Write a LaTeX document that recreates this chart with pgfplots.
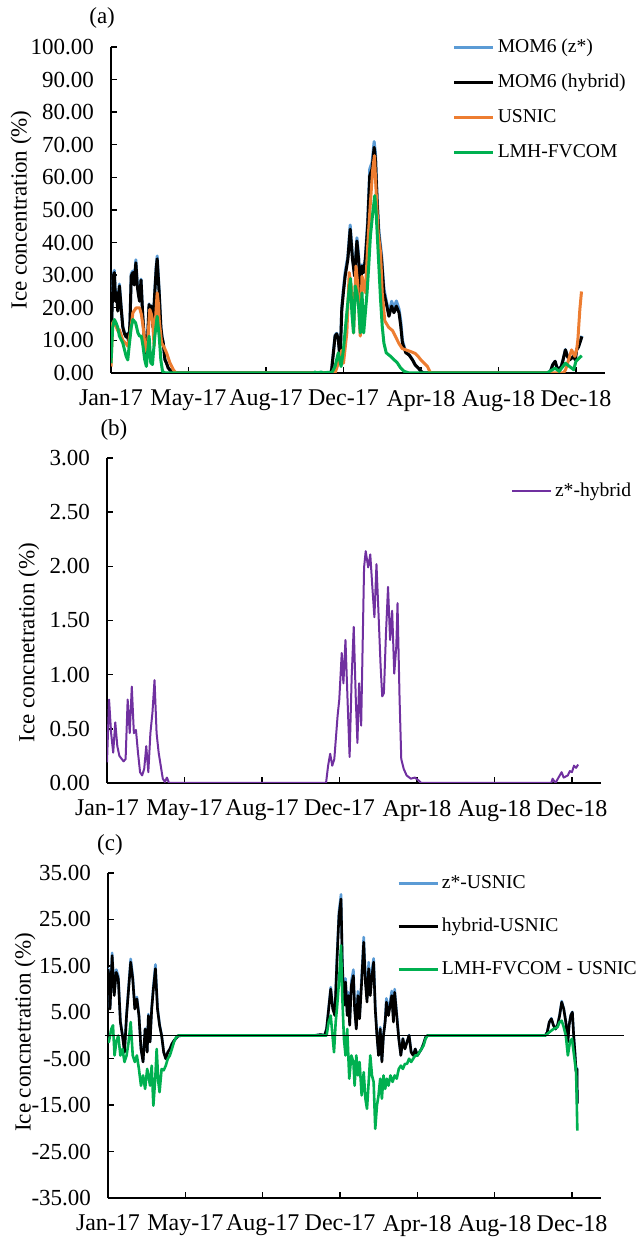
\documentclass[border=0pt]{standalone}
\usepackage{fontspec}
\setmainfont{Liberation Serif}
\usepackage{pgfplots}
\pgfplotsset{compat=1.18}
\definecolor{zblue}{RGB}{91,155,213}
\definecolor{uorange}{RGB}{237,125,49}
\definecolor{fgreen}{RGB}{0,176,80}
\definecolor{hpurple}{RGB}{112,48,160}
\newcommand{\tfont}{\fontsize{11.5}{13}\selectfont}
\newcommand{\xfont}{\fontsize{12}{13}\selectfont}
\newcommand{\lfont}{\fontsize{9.8}{11}\selectfont}
\pgfplotsset{
  base/.style={
    scale only axis, width=247pt, height=162.5pt,
    xmin=0, xmax=765,
    axis lines*=left, xtick pos=left, ytick pos=left,
    tick align=inside, major tick length=3pt,
    every tick/.style={black, line width=0.7pt},
    axis line style={black, line width=0.8pt},
    xtick={0,120,240,360,480,600,720},
    xticklabels={Jan-17,May-17,Aug-17,Dec-17,Apr-18,Aug-18,Dec-18},
    yticklabel style={font=\tfont, xshift=-5pt},
    xticklabel style={font=\xfont, yshift=-5pt},
    /pgf/number format/.cd, fixed, fixed zerofill, precision=2, assume math mode=true,
    /pgfplots/.cd,
    label style={font=\tfont},
    clip mode=individual,
    legend cell align=left,
    legend image code/.code={\draw[##1] (0pt,0pt) -- (19.5pt,0pt);},
    every axis plot/.append style={line join=round},
  }
}
\begin{document}
\begin{tikzpicture}
% ---------------- (a)
\begin{axis}[base, at={(55.5pt,432.5pt)}, anchor=south west,
  width=247pt, height=163pt,
  ymin=0, ymax=100, ytick distance=10,
  ylabel={Ice concentration (\%)},
  ylabel style={at={(axis description cs:-0.182,0.5)}, anchor=center},
  legend style={at={(axis description cs:0.691,1.03)}, anchor=north west,
    draw=none, fill=none, inner sep=0pt, row sep=7.5pt, column sep=1pt,
    font=\lfont, nodes={inner sep=0.5pt, text height=7pt, text depth=2pt}},
]
\addplot[zblue, line width=1.5pt] coordinates {
(0,8.2) (2,22.6) (4,30.6) (5.2,31.5) (7,22.5) (8.9,25) (10.5,19.4) (13,27.3) (15.7,20.3) (18.3,14.3) (21,12.2) (23.5,11.2) (25.5,12.2) (27.7,9.2) (29.5,16.5) (31.3,30.4) (33.9,31.3) (36,27.6) (38.5,34.7) (40.7,27.2) (42.5,24.5) (44.3,22.4) (46.5,28.8) (49,18.3) (51,12.1) (52.5,9.1) (54.8,6.1) (57,12.1) (59,21.2) (61,17.3) (62.6,20.6) (65,14.1) (67.8,25) (70,32.6) (71.5,35.9) (73,30.6) (74.6,25.1) (77.2,14.3) (79,11.2) (80.9,9.3) (83.5,4.1) (86,3) (88.7,1.5) (93.9,0.4) (99,0)
(340,0) (341.7,1.1) (344.3,6.2) (347,11.6) (349.5,12.2) (352,10.5) (354.8,4.3) (357.4,20.1) (360,25.8) (362.6,30.9) (366.8,35.8) (370.4,45.4) (374,35.7) (377.2,30) (380.8,41.5) (383.4,36.2) (386,25.3) (388.7,33.2) (391.3,31.7) (393.9,35.4) (397.5,47) (400.7,62.6) (404.3,64.6) (407.5,71) (409.5,67.5) (412.1,53.8) (414.8,43.6) (418.9,36.5) (422.6,25.9) (426.2,22.3) (430.4,18.2) (434.6,22) (438.2,19.8) (441.9,22.1) (446,19.6) (448.7,16) (451.3,10) (456.5,6.4) (461.7,5.6) (466.9,4.1) (471,2.5) (476,1.5) (480,0.5) (484,0)
(680,0) (681.4,1) (684,2.5) (687.8,3.6) (690,2) (692.9,1) (697.3,2) (700,4) (703.7,7.2) (707,5.1) (710,4.1) (713,4.6) (716.5,5.2) (719,4.1) (721,7.2) (724,8.1) (726,9.4) (729.2,11.4)};
\addlegendentry{MOM6 (z*)}
\addplot[black, line width=1.5pt] coordinates {
(0,8) (2,22) (4,30) (5.2,30.8) (7,22) (8.9,24.6) (10.5,19) (13,26.7) (15.7,20) (18.3,14) (21,12) (23.5,11) (25.5,12) (27.7,9) (29.5,16) (31.3,29.7) (33.9,30.8) (36,27) (38.5,33.8) (40.7,26.7) (42.5,24) (44.3,22) (46.5,28.5) (49,18) (51,12) (52.5,9) (54.8,6) (57,12) (59,21) (61,17) (62.6,20.5) (65,14) (67.8,24.6) (70,32) (71.5,35) (73,30) (74.6,24.6) (77.2,14) (79,11) (80.9,9.2) (83.5,4.1) (86,3) (88.7,1.5) (93.9,0.4) (99,0)
(340,0) (341.7,1) (344.3,6) (347,11.3) (349.5,12) (352,10.3) (354.8,4) (357.4,19.5) (360,25) (362.6,29.7) (366.8,34.9) (370.4,44.1) (374,34.9) (377.2,29.7) (380.8,40.5) (383.4,34.9) (386,24.6) (388.7,32.8) (391.3,30.8) (393.9,34.9) (397.5,45.1) (400.7,60.5) (404.3,62.6) (407.5,69.2) (409.5,65.6) (412.1,52.3) (414.8,42) (418.9,34.9) (422.6,24.6) (426.2,21.5) (430.4,17.4) (434.6,20.5) (438.2,18.5) (441.9,20.5) (446,18.5) (448.7,14.4) (451.3,9.2) (456.5,6.2) (461.7,5.5) (466.9,4) (471,2.5) (476,1.5) (480,0.5) (484,0)
(680,0) (681.4,1) (684,2.5) (687.8,3.6) (690,2) (692.9,1) (697.3,2) (700,4) (703.7,7.1) (707,5) (710,4) (713,4.5) (716.5,5.1) (719,4) (721,7.1) (724,8) (726,9.2) (729.2,11.2)};
\addlegendentry{MOM6 (hybrid)}
\addplot[uorange, line width=1.5pt] coordinates {
(0,2) (2.6,15.4) (5.2,16) (7.8,14.4) (10.4,13) (13,13.3) (18.3,10) (23.5,9) (26,8.2) (29.7,12) (33.9,18.5) (39,20) (44.3,20) (47,18) (49.6,14.4) (52.2,9.2) (55.8,6.2) (60,19.5) (62.6,18) (64.2,16.4) (66.8,8.2) (69.4,18) (71.5,24.6) (73.6,21) (74.6,16.4) (78.3,9.2) (82,8) (86,6.2) (91.3,3.1) (96.5,1) (100.7,0)
(347,0) (352,3) (357.4,7) (360,3) (365.2,12.3) (368.9,30.8) (372,26.7) (375.6,12.3) (379.3,32.8) (382.4,26.7) (386,11.3) (388.7,29.7) (393.9,24.6) (397.5,39) (401.7,52.3) (405.4,62.6) (408,66.7) (410.6,55.4) (413.7,43) (417.4,37) (420,24.6) (424,16) (430,14) (436,13) (441,11) (446,9) (451,7.5) (458,7) (465,6.5) (471,6) (476,5) (480,4) (485,3) (490,2) (495,0)
(700.5,0) (704,1) (707,3) (710,5) (713.3,7.1) (716,6) (718.4,5.1) (721,7) (723,10.2) (726,19.4) (728.6,25)};
\addlegendentry{USNIC}
\addplot[fgreen, line width=1.5pt] coordinates {
(0,3) (2.6,14) (5.2,16.4) (7.8,15.4) (10.4,14) (13,11.3) (18.3,9.2) (23.5,5.1) (26,4) (28,8) (31.3,14) (33.9,16.4) (38.1,15.4) (41.7,12.3) (44.3,11.3) (47,11.3) (49.6,8.2) (52.2,4.1) (54.8,2) (59,11.3) (61.6,3.1) (64.2,2.6) (67.8,11.3) (71.5,17.4) (74.6,11.3) (77.2,4) (79.8,0.5) (83.5,0)
(315,0) (316,0.3) (318,0) (326,0.3) (328,0) (336,0.2) (341.7,0) (347,2) (352,6.2) (356.3,2) (360,7.2) (365.2,18.5) (368.9,26) (371,29) (373,18.5) (375.6,12.3) (378.2,26.7) (380.8,24.6) (383.4,20.5) (386,12.3) (388.7,24.6) (391.3,12.3) (393.9,18.5) (396.5,24.6) (399.1,32.8) (401.7,42) (405.4,49.2) (408.5,54.4) (410.6,49.2) (412.7,41) (414.8,32.8) (417.4,22.6) (420,14.4) (422.6,9.2) (426.2,6.2) (433,5.1) (438.2,4.1) (443.4,3.1) (448.7,1.5) (453.9,0.5) (461.7,0)
(675,0) (687.8,1.5) (694,0.5) (703.7,3) (710,2) (716.5,1) (720,3.6) (725,4.6) (729,5.3)};
\addlegendentry{LMH-FVCOM}
\node[font=\tfont] at (axis description cs:-0.018,1.089) {(a)};
\end{axis}
% ---------------- (b)
\begin{axis}[base, at={(53.5pt,227.5pt)}, anchor=south west,
  ymin=0, ymax=3, ytick={0,0.5,...,3},
  ylabel={Ice concnetration (\%)},
  ylabel style={at={(axis description cs:-0.158,0.432)}, anchor=center},
  legend style={at={(axis description cs:0.817,0.93)}, anchor=north west,
    draw=none, fill=none, inner sep=0pt, column sep=1pt,
    font=\lfont, nodes={inner sep=0.5pt, text height=7pt, text depth=2pt}},
]
\addplot[hpurple, line width=1pt] coordinates {
(0,0.19) (3.2,0.77) (6.4,0.46) (9.6,0.28) (12.8,0.56) (16,0.34) (19.2,0.25) (25.6,0.2) (28.8,0.22) (32,0.77) (35.2,0.46) (38.4,0.89) (41.6,0.46) (44.8,0.49) (48,0.28) (51.2,0.1) (54.4,0.07) (57.6,0.13) (60.8,0.34) (64,0.1) (67.2,0.46) (70.4,0.65) (73.6,0.95) (76.8,0.46) (80,0.28) (83.2,0.16) (86.4,0.04) (89.6,0.01) (92.8,0.05) (96,0)
(339.2,0) (342.4,0.16) (345.6,0.27) (348.8,0.16) (352,0.22) (357.1,0.62) (359.7,0.77) (363.5,1.2) (366.1,0.92) (369.3,1.32) (372.5,0.77) (375.7,0.24) (378.9,0.98) (382.1,1.44) (385.3,0.77) (387.8,0.37) (390.4,0.92) (393.6,0.53) (398.1,1.99) (400.6,2.14) (404.5,1.99) (407.7,2.11) (410.9,1.81) (414.1,1.53) (417.3,2.02) (420.5,1.56) (423.7,1.08) (426.2,0.8) (428.8,0.83) (432,1.38) (435.2,1.81) (438.4,1.32) (441.6,1.59) (444.8,1.01) (448,1.26) (449.9,1.66) (453.1,0.77) (455.7,0.22) (459.5,0.13) (464,0.07) (470.4,0.04) (476.8,0.05) (483.2,0.02) (486.4,0)
(688,0) (690,0.04) (694.4,0) (704,0.1) (707.2,0.05) (713.6,0.07) (716.8,0.11) (720,0.1) (723.2,0.16) (726.4,0.14) (729.6,0.17)};
\addlegendentry{z*-hybrid}
\node[font=\tfont] at (axis description cs:0.014,1.086) {(b)};
\end{axis}
% ---------------- (c)
\begin{axis}[base, at={(54pt,20pt)}, anchor=south west,
  width=246.5pt,
  ymin=-35, ymax=35, ytick={-35,-25,...,35},
  ylabel={Ice concnetration (\%)},
  ylabel style={at={(axis description cs:-0.168,0.51)}, anchor=center},
  legend style={at={(axis description cs:0.586,1.0)}, anchor=north west,
    draw=none, fill=none, inner sep=0pt, row sep=11.5pt, column sep=1pt,
    font=\lfont, nodes={inner sep=0.5pt, text height=7pt, text depth=2pt}},
]
\addplot[zblue, line width=1.3pt] coordinates {
(0,14.6) (1.3,13.4) (3.2,6) (6.4,17.8) (9.6,9) (12.8,14.2) (16,12.8) (19.2,3.2) (22.4,0.2) (25.6,-3.4) (28.8,4.6) (32,10.6) (35.2,16.5) (38.4,12.8) (41.6,6) (44.8,8.3) (48,4.5) (51.2,-2.8) (54.4,-5.6) (57.6,1.5) (60.8,-3.4) (62.7,4.6) (65.3,-1.3) (67.8,6.1) (70.4,10.6) (73.6,15.3) (76.8,6.1) (80,2.4) (83.2,0.1) (86.4,-3.5) (89.6,-5) (92.8,-3.6) (96,-2.9) (99.2,-1.8) (102.4,-1.1) (105.6,-0.6) (108.8,-0.1) (115,0)
(320,0) (330,0.2) (336,0) (339.2,1.5) (342.4,6) (345.6,10.4) (348.8,6) (352,4.6) (355.2,16.5) (358.4,26.7) (361.6,30.4) (363.5,16.6) (366.1,6.9) (368.6,12.3) (371.2,4.6) (373.1,9.3) (375,2.4) (377.6,11.7) (380.8,14.2) (382.7,6.3) (385.3,1.6) (387.8,9.5) (390.4,4) (393.6,12.7) (396.8,21.2) (399.4,12.5) (401.9,7.9) (404.5,15.8) (407,9.5) (409.6,14.1) (412.2,16.6) (414.7,6.3) (417.3,0.3) (419.8,-4.1) (422.4,1.8) (425,-5.4) (427.5,0.3) (430.1,3.4) (432,8) (435.2,5) (437.8,7.4) (440.3,9.6) (442.9,3.3) (444.8,10) (448,4.8) (451.2,-0.5) (454.4,-4.2) (457.6,-0.6) (460.8,-2.8) (464,-1.3) (467.2,0.1) (470.4,-3.5) (473.6,-4.2) (476.8,-2.9) (480,-4.3) (483.2,-3.6) (486.4,-2.9) (489.6,-1.8) (492.8,-0.4) (496,0)
(678.4,0) (681.6,0.7) (684.8,2.9) (688,3.7) (691.2,2.2) (694.4,1.4) (697.6,2.3) (700.8,4.4) (704,7.4) (707.2,5.8) (710.4,3) (713.6,-1.3) (715.5,2.3) (718.1,4.4) (720.6,5.1) (722.6,0.1) (724.5,-3.4) (726.4,-7.7) (727.7,-7) (728.3,-14.5)};
\addlegendentry{z*-USNIC}
\addplot[black, line width=1.3pt] coordinates {
(0,14.3) (1.3,12.9) (3.2,5.7) (6.4,17.2) (9.6,8.6) (12.8,13.6) (16,12.2) (19.2,2.9) (22.4,0) (25.6,-3.6) (28.8,4.3) (32,10) (35.2,15.8) (38.4,12.2) (41.6,5.7) (44.8,7.9) (48,4.3) (51.2,-2.9) (54.4,-5.7) (57.6,1.4) (60.8,-3.6) (62.7,4.3) (65.3,-1.4) (67.8,5.7) (70.4,10) (73.6,14.4) (76.8,5.7) (80,2.2) (83.2,0) (86.4,-3.6) (89.6,-5) (92.8,-3.6) (96,-2.9) (99.2,-1.8) (102.4,-1.1) (105.6,-0.6) (108.8,-0.1) (115,0)
(320,0) (330,0.2) (336,0) (339.2,1.4) (342.4,5.7) (345.6,10) (348.8,5.7) (352,4.3) (355.2,15.8) (358.4,25.8) (361.6,29.4) (363.5,15.8) (366.1,6.5) (368.6,11.5) (371.2,4.3) (373.1,8.6) (375,2.2) (377.6,10.8) (380.8,12.9) (382.7,5.7) (385.3,1.4) (387.8,8.6) (390.4,3.6) (393.6,11.5) (396.8,20.1) (399.4,11.5) (401.9,7.2) (404.5,14.4) (407,8.6) (409.6,12.9) (412.2,15.8) (414.7,5.7) (417.3,0) (419.8,-4.3) (422.4,1.4) (425,-5.7) (427.5,0) (430.1,2.9) (432,7.2) (435.2,4.3) (437.8,6.5) (440.3,8.6) (442.9,2.9) (444.8,9.3) (448,4.3) (451.2,-0.7) (454.4,-4.3) (457.6,-0.7) (460.8,-2.9) (464,-1.4) (467.2,0) (470.4,-3.6) (473.6,-4.3) (476.8,-2.9) (480,-4.3) (483.2,-3.6) (486.4,-2.9) (489.6,-1.8) (492.8,-0.4) (496,0)
(678.4,0) (681.6,0.7) (684.8,2.9) (688,3.6) (691.2,2.2) (694.4,1.4) (697.6,2.2) (700.8,4.3) (704,7.2) (707.2,5.7) (710.4,2.9) (713.6,-1.4) (715.5,2.2) (718.1,4.3) (720.6,5) (722.6,0) (724.5,-3.6) (726.4,-7.9) (727.7,-7.2) (728.3,-14.7)};
\addlegendentry{hybrid-USNIC}
\addplot[fgreen, line width=1.3pt] coordinates {
(0,-0.5) (1.3,-1.4) (5.1,1.4) (7.7,2.2) (10.2,-4.3) (12.8,-1.4) (16,0) (19.2,-4.3) (22.4,-2.9) (25.6,-5.7) (28.8,-4.3) (32,-1.4) (35.2,2.9) (38.4,-4.3) (41.6,-5.7) (44.8,-4.3) (48,-7.2) (51.2,-10.8) (54.4,-8.6) (57.6,-11.5) (60.8,-7.2) (62.7,-8.6) (65.3,-10.8) (67.8,-6.5) (70.4,-15.1) (73.6,-8.6) (75.5,-2.9) (78.1,-10) (80,-12.2) (83.2,-7.2) (86.4,-7.5) (89.6,-6.5) (92.8,-5) (96,-4.3) (99.2,-2.9) (102.4,-1.4) (105.6,-0.4) (108.8,0)
(339.2,0) (342.4,2.9) (345.6,4.3) (348.8,-0.7) (350.7,-3.6) (353.3,2.9) (355.2,5.7) (358.4,11.5) (361.6,19.4) (363.5,8.6) (366.1,-0.7) (368.6,-4.3) (371.2,1.4) (374.4,-9.3) (377.6,-4.3) (380.8,-5.7) (382.7,-10.8) (385.3,-4.3) (387.8,-8.6) (390.4,-5.7) (393.6,-12.9) (396.8,-7.9) (399.4,-13.6) (401.9,-15.8) (404.5,-10) (407,-4.3) (409.6,-8.6) (412.2,-10) (414.7,-20.1) (417.3,-15.1) (419.8,-12.9) (422.4,-9.3) (425,-13.6) (427.5,-8.6) (430.1,-11.5) (432.6,-9.3) (435.2,-10.8) (438.4,-8.6) (441.6,-10) (444.8,-8.6) (448,-9.3) (451.2,-7.2) (454.4,-6.5) (457.6,-7.2) (460.8,-6.1) (464,-6.1) (467.2,-5) (470.4,-5.7) (473.6,-5) (476.8,-4.3) (480,-4.3) (483.2,-3.6) (486.4,-2.9) (489.6,-2.2) (492.8,-0.7) (496,0)
(678.4,0) (684.8,0.7) (691.2,1.4) (697.6,1.8) (700.8,2.9) (704,3.2) (707.2,1.8) (710.4,0) (713.6,-4.3) (716.8,-1.4) (720,-0.7) (723.2,-4.3) (726.4,-7.9) (728.3,-20.5)};
\addlegendentry{LMH-FVCOM - USNIC}
\draw[black, line width=0.6pt] (axis cs:-5,0) -- (axis cs:800,0);
\node[font=\tfont] at (axis description cs:0.004,1.086) {(c)};
\end{axis}
\pgfresetboundingbox
\path[use as bounding box] (0,0) rectangle (321pt,619pt);
\end{tikzpicture}
\end{document}
